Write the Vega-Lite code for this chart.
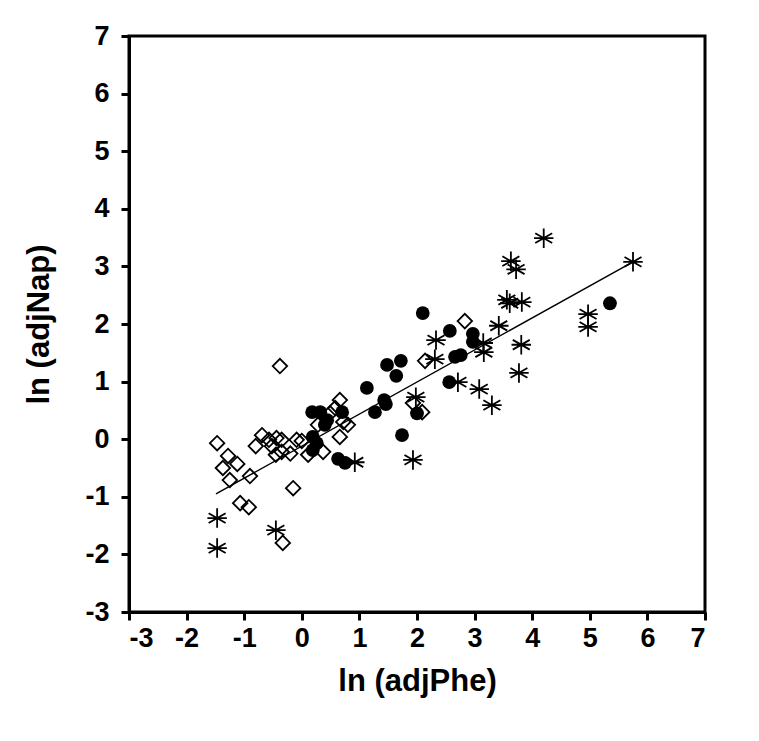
{
  "$schema": "https://vega.github.io/schema/vega-lite/v6.json",
  "width": 576,
  "height": 576,
  "autosize": {"type": "none"},
  "padding": {"left": 129, "top": 36, "right": 54, "bottom": 129},
  "background": "white",
  "config": {
    "view": {"stroke": "black", "strokeWidth": 3},
    "axis": {
      "grid": false,
      "domainColor": "black",
      "domainWidth": 3,
      "tickColor": "black",
      "tickWidth": 3,
      "tickSize": 8,
      "labelFont": "Liberation Sans",
      "labelFontWeight": "bold",
      "labelColor": "black",
      "titleFont": "Liberation Sans",
      "titleFontWeight": "bold",
      "titleFontSize": 31,
      "titleColor": "black"
    }
  },
  "datasets": {
    "pts": [
      {"g": "star", "x": -1.47, "y": -1.37},
      {"g": "star", "x": -1.47, "y": -1.89},
      {"g": "star", "x": -0.45, "y": -1.58},
      {"g": "star", "x": 0.92, "y": -0.40},
      {"g": "star", "x": 1.93, "y": -0.36},
      {"g": "star", "x": 1.98, "y": 0.73},
      {"g": "star", "x": 2.33, "y": 1.72},
      {"g": "star", "x": 2.31, "y": 1.39},
      {"g": "star", "x": 2.71, "y": 0.99},
      {"g": "star", "x": 3.15, "y": 1.67},
      {"g": "star", "x": 3.16, "y": 1.51},
      {"g": "star", "x": 3.08, "y": 0.87},
      {"g": "star", "x": 3.30, "y": 0.59},
      {"g": "star", "x": 3.42, "y": 1.97},
      {"g": "star", "x": 3.81, "y": 1.64},
      {"g": "star", "x": 3.77, "y": 1.15},
      {"g": "star", "x": 3.56, "y": 2.42},
      {"g": "star", "x": 3.61, "y": 2.36},
      {"g": "star", "x": 3.82, "y": 2.38},
      {"g": "star", "x": 3.63, "y": 3.09},
      {"g": "star", "x": 3.72, "y": 2.95},
      {"g": "star", "x": 4.20, "y": 3.49},
      {"g": "star", "x": 5.75, "y": 3.08},
      {"g": "star", "x": 4.97, "y": 2.17},
      {"g": "star", "x": 4.97, "y": 1.95},
      {"g": "circle", "x": 2.10, "y": 2.19},
      {"g": "circle", "x": 2.57, "y": 1.88},
      {"g": "circle", "x": 2.97, "y": 1.83},
      {"g": "circle", "x": 2.97, "y": 1.69},
      {"g": "circle", "x": 2.66, "y": 1.43},
      {"g": "circle", "x": 2.76, "y": 1.46},
      {"g": "circle", "x": 2.56, "y": 0.99},
      {"g": "circle", "x": 5.35, "y": 2.36},
      {"g": "circle", "x": 1.48, "y": 1.29},
      {"g": "circle", "x": 1.72, "y": 1.36},
      {"g": "circle", "x": 1.64, "y": 1.10},
      {"g": "circle", "x": 1.13, "y": 0.89},
      {"g": "circle", "x": 1.43, "y": 0.68},
      {"g": "circle", "x": 1.46, "y": 0.61},
      {"g": "circle", "x": 1.27, "y": 0.47},
      {"g": "circle", "x": 2.00, "y": 0.45},
      {"g": "circle", "x": 1.74, "y": 0.07},
      {"g": "circle", "x": 0.18, "y": 0.47},
      {"g": "circle", "x": 0.32, "y": 0.47},
      {"g": "circle", "x": 0.44, "y": 0.33},
      {"g": "circle", "x": 0.70, "y": 0.47},
      {"g": "circle", "x": 0.40, "y": 0.25},
      {"g": "circle", "x": 0.19, "y": 0.04},
      {"g": "circle", "x": 0.26, "y": -0.07},
      {"g": "circle", "x": 0.19, "y": -0.19},
      {"g": "circle", "x": 0.63, "y": -0.34},
      {"g": "circle", "x": 0.75, "y": -0.41},
      {"g": "diamond", "x": -0.38, "y": 1.27},
      {"g": "diamond", "x": -1.47, "y": -0.07},
      {"g": "diamond", "x": -1.28, "y": -0.29},
      {"g": "diamond", "x": -1.12, "y": -0.43},
      {"g": "diamond", "x": -1.37, "y": -0.50},
      {"g": "diamond", "x": -1.25, "y": -0.71},
      {"g": "diamond", "x": -0.90, "y": -0.64},
      {"g": "diamond", "x": -1.07, "y": -1.11},
      {"g": "diamond", "x": -0.92, "y": -1.18},
      {"g": "diamond", "x": -0.15, "y": -0.85},
      {"g": "diamond", "x": -0.33, "y": -1.80},
      {"g": "diamond", "x": -0.69, "y": 0.07},
      {"g": "diamond", "x": -0.80, "y": -0.12},
      {"g": "diamond", "x": -0.57, "y": -0.01},
      {"g": "diamond", "x": -0.44, "y": 0.02},
      {"g": "diamond", "x": -0.52, "y": -0.12},
      {"g": "diamond", "x": -0.35, "y": -0.01},
      {"g": "diamond", "x": -0.35, "y": -0.22},
      {"g": "diamond", "x": -0.45, "y": -0.27},
      {"g": "diamond", "x": -0.20, "y": -0.25},
      {"g": "diamond", "x": -0.09, "y": -0.01},
      {"g": "diamond", "x": 0.00, "y": -0.03},
      {"g": "diamond", "x": 0.11, "y": -0.27},
      {"g": "diamond", "x": 0.37, "y": -0.22},
      {"g": "diamond", "x": 0.66, "y": 0.68},
      {"g": "diamond", "x": 0.58, "y": 0.54},
      {"g": "diamond", "x": 0.72, "y": 0.30},
      {"g": "diamond", "x": 0.80, "y": 0.25},
      {"g": "diamond", "x": 0.66, "y": 0.04},
      {"g": "diamond", "x": 0.28, "y": 0.25},
      {"g": "diamond", "x": 0.49, "y": 0.45},
      {"g": "diamond", "x": 2.83, "y": 2.05},
      {"g": "diamond", "x": 2.14, "y": 1.36},
      {"g": "diamond", "x": 1.93, "y": 0.63},
      {"g": "diamond", "x": 2.09, "y": 0.47}
    ],
    "fit": [
      {"x": -1.49, "y": -0.95},
      {"x": 5.75, "y": 3.08}
    ]
  },
  "layer": [
    {
      "data": {"name": "fit"},
      "mark": {"type": "line", "color": "black", "strokeWidth": 1.5},
      "encoding": {
        "x": {
          "field": "x", "type": "quantitative",
          "scale": {"domain": [-3, 7], "nice": false},
          "axis": {"values": [-3, -2, -1, 0, 1, 2, 3, 4, 5, 6, 7], "title": "ln (adjPhe)", "labelExpr": "'' + datum.value", "labelFontSize": 27, "labelPadding": 5, "titlePadding": 15}
        },
        "y": {
          "field": "y", "type": "quantitative",
          "scale": {"domain": [-3, 7], "nice": false},
          "axis": {"values": [-3, -2, -1, 0, 1, 2, 3, 4, 5, 6, 7], "title": "ln (adjNap)", "labelExpr": "'' + datum.value", "labelFontSize": 27, "labelPadding": 12, "titlePadding": 29}
        }
      }
    },
    {
      "data": {"name": "pts"},
      "transform": [{"filter": "datum.g === 'diamond'"}],
      "mark": {"type": "point", "shape": "diamond", "filled": false, "stroke": "black", "strokeWidth": 1.8, "size": 210, "opacity": 1},
      "encoding": {
        "x": {"field": "x", "type": "quantitative"},
        "y": {"field": "y", "type": "quantitative"}
      }
    },
    {
      "data": {"name": "pts"},
      "transform": [{"filter": "datum.g === 'circle'"}],
      "mark": {"type": "point", "shape": "circle", "filled": true, "fill": "black", "size": 190, "opacity": 1},
      "encoding": {
        "x": {"field": "x", "type": "quantitative"},
        "y": {"field": "y", "type": "quantitative"}
      }
    },
    {
      "data": {"name": "pts"},
      "transform": [{"filter": "datum.g === 'star'"}],
      "mark": {"type": "point", "shape": "M0,-1L0,1M-0.87,-0.5L0.87,0.5M-0.87,0.5L0.87,-0.5M-1,0L1,0", "filled": false, "stroke": "black", "strokeWidth": 1.8, "size": 380, "opacity": 1},
      "encoding": {
        "x": {"field": "x", "type": "quantitative"},
        "y": {"field": "y", "type": "quantitative"}
      }
    }
  ]
}
